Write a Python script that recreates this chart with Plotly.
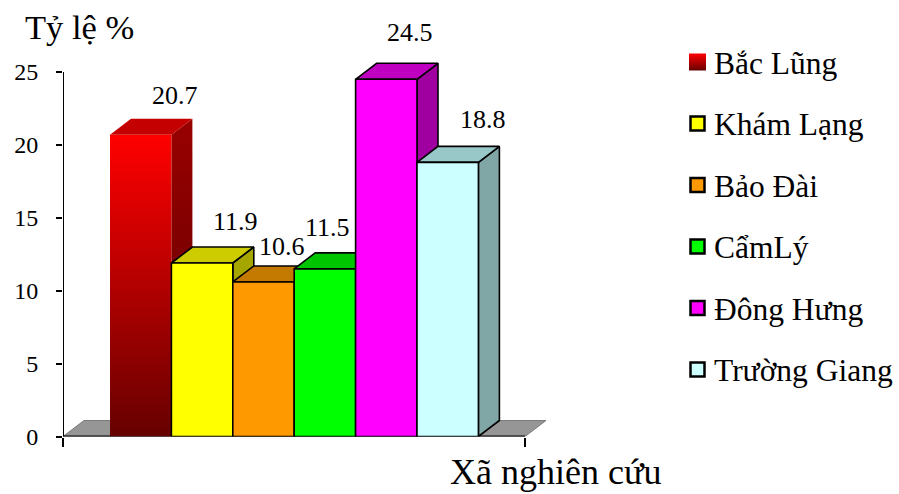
import plotly.graph_objects as go

# Chart data
communes = ["Bắc Lũng", "Khám Lạng", "Bảo Đài", "CẩmLý", "Đông Hưng", "Trường Giang"]
rates = [20.7, 11.9, 10.6, 11.5, 24.5, 18.8]
y_ticks = [0, 5, 10, 15, 20, 25]
y_title = "Tỷ lệ %"
x_title = "Xã nghiên cứu"

# Face colours of each block: front, top, side
front_colors = ["#FF0000", "#FFFF00", "#FF9900", "#00FF00", "#FF00FF", "#CCFFFF"]
top_colors = ["#C40000", "#CCCC00", "#C47A00", "#00C400", "#C000C0", "#99C8C8"]
side_colors = ["#990000", "#A6A600", "#A66600", "#00A000", "#A0009F", "#80A6A6"]
label_dx = [34, 33, 18, 3, 24, 35]
label_dy = [39, 42, 35, 41, 47, 43]

WIDTH, HEIGHT = 899, 494
MARGIN_B = 16
PLOT_H = HEIGHT - MARGIN_B
LEFT, RIGHT, TOP, BOTTOM = 63, 546, 40, 436.5
PX_PER_UNIT_X = 462.0
PX_PER_UNIT_Y = 14.58
FONT = "Liberation Serif"

# Oblique depth of the pseudo-3D projection, in data units
DX = 21 / PX_PER_UNIT_X
DY = 16 / PX_PER_UNIT_Y
BAR_START = 47 / PX_PER_UNIT_X
BAR_W = 61.4 / PX_PER_UNIT_X

# Legend key column and rows, in page pixels
KEY_X, TEXT_X = 697.5, 712
ROW_FIRST, ROW_STEP = 62, 61.5

fig = go.Figure()


def page_x(px):
    return px / WIDTH


def page_y(py):
    return 1 - py / PLOT_H


def face(xs, ys, fill, line="black", width=1.6, gradient=None):
    kw = {"fillgradient": gradient} if gradient else {"fillcolor": fill}
    fig.add_trace(go.Scatter(
        x=xs, y=ys, mode="lines", fill="toself",
        line=dict(color=line, width=width),
        showlegend=False, hoverinfo="skip", cliponaxis=False, **kw))


# Floor of the plot
x_end = 1.0
face([0, DX, x_end + DX, x_end, 0], [0, DY, DY, 0, 0], "#969696", line="#7a7a7a", width=1)

# Axis lines
fig.add_trace(go.Scatter(x=[0, 0], y=[0, y_ticks[-1]], mode="lines",
                         line=dict(color="black", width=2),
                         showlegend=False, hoverinfo="skip", cliponaxis=False))
fig.add_trace(go.Scatter(x=[0, x_end], y=[0, 0], mode="lines",
                         line=dict(color="black", width=2),
                         showlegend=False, hoverinfo="skip", cliponaxis=False))

# Blocks, painted left to right so each one overlaps its neighbour's side
for i, v in enumerate(rates):
    x0 = BAR_START + i * BAR_W
    x1 = x0 + BAR_W
    plain = i > 0
    edge = "black" if plain else "rgba(0,0,0,0)"
    side_grad = None if plain else dict(
        type="vertical", colorscale=[[0, "#5a0000"], [1, side_colors[0]]])
    face([x1, x1 + DX, x1 + DX, x1, x1], [0, DY, v + DY, v, 0], side_colors[i],
         line=edge, gradient=side_grad)
    face([x0, x0 + DX, x1 + DX, x1, x0], [v, v + DY, v + DY, v, v], top_colors[i], line=edge)
    front_grad = None if plain else dict(
        type="vertical", colorscale=[[0, "#660000"], [1, "#FF0000"]])
    face([x0, x1, x1, x0, x0], [0, 0, v, v, 0], front_colors[i], line=edge, gradient=front_grad)

annotations = []

# Legend keys and names, on a page-sized overlay axis pair
for i, name in enumerate(communes):
    row_y = ROW_FIRST + i * ROW_STEP
    marker = dict(symbol="square", size=14, color=front_colors[i],
                  line=dict(color="black", width=2.5))
    if i == 0:
        marker.update(gradient=dict(type="vertical", color="#660000"), size=17,
                      line=dict(color="rgba(0,0,0,0)", width=0))
    fig.add_trace(go.Scatter(x=[KEY_X], y=[row_y], xaxis="x2", yaxis="y2", mode="markers",
                             name=name, marker=marker, showlegend=False, cliponaxis=False))
    annotations.append(dict(x=TEXT_X, y=row_y + 1, xref="x2", yref="y2",
                            xanchor="left", yanchor="middle", text=name, showarrow=False,
                            font=dict(family=FONT, size=31.5, color="black")))

# Value labels above the blocks
for i, v in enumerate(rates):
    annotations.append(dict(
        x=BAR_START + (i + 0.5) * BAR_W, y=v, xref="x", yref="y",
        text=str(v), showarrow=False, xshift=label_dx[i], yshift=label_dy[i],
        font=dict(family=FONT, size=26, color="black")))

annotations.append(dict(x=23, y=27, xref="x2", yref="y2",
                        xanchor="left", yanchor="middle", text=y_title, showarrow=False,
                        font=dict(family=FONT, size=34.5, color="black")))
annotations.append(dict(x=448, y=472, xref="x2", yref="y2",
                        xanchor="left", yanchor="middle", text=x_title, showarrow=False,
                        font=dict(family=FONT, size=36, color="black")))

fig.update_layout(
    width=WIDTH, height=HEIGHT,
    margin=dict(l=0, r=0, t=0, b=MARGIN_B, pad=0),
    paper_bgcolor="white", plot_bgcolor="rgba(0,0,0,0)",
    annotations=annotations,
    showlegend=False,
    xaxis=dict(domain=[page_x(LEFT), page_x(RIGHT)],
               range=[0, (RIGHT - LEFT) / PX_PER_UNIT_X], showgrid=False, zeroline=False,
               showline=False, tickmode="array", tickvals=[0, 1], ticktext=["", ""],
               ticks="outside", ticklen=9, tickwidth=2, tickcolor="black", fixedrange=True),
    yaxis=dict(domain=[page_y(BOTTOM), page_y(TOP)],
               range=[0, (BOTTOM - TOP) / PX_PER_UNIT_Y], showgrid=False, zeroline=False,
               showline=False, tickmode="array", tickvals=y_ticks,
               ticks="outside", ticklen=6, tickwidth=2, tickcolor="black",
               ticklabelstandoff=13, tickfont=dict(family=FONT, size=24, color="black"),
               fixedrange=True),
    xaxis2=dict(domain=[0, 1], range=[0, WIDTH], visible=False, anchor="y2", fixedrange=True),
    yaxis2=dict(domain=[0, 1], range=[PLOT_H, 0], visible=False, anchor="x2", fixedrange=True),
)

fig.write_html("out.html", config=dict(displayModeBar=False))
